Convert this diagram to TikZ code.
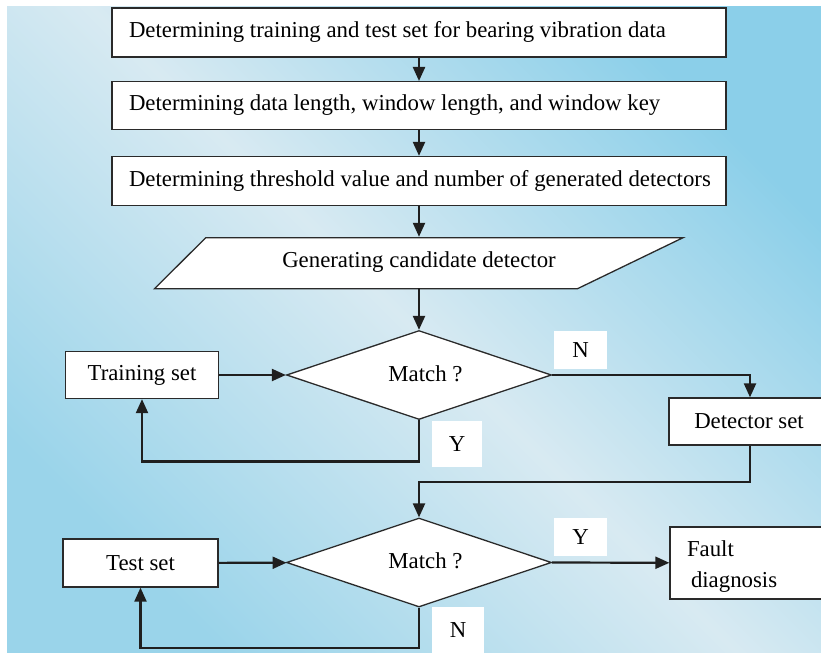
\documentclass[tikz,border=0pt]{standalone}
\usepackage{fontspec}
\setmainfont{Liberation Serif}
\usetikzlibrary{arrows.meta,shapes.geometric}
\definecolor{bgblue}{HTML}{8BCFE9}
\definecolor{bgblueb}{HTML}{9AD4EA}
\definecolor{bglight}{HTML}{D8EAF2}
\definecolor{edge}{HTML}{2A2A2A}
\tikzset{
  txt/.style={font=\fontsize{22.8}{26}\selectfont},
  box/.style={draw=edge, line width=1.3pt, fill=white, inner sep=0pt, txt},
  wide/.style={box, minimum width=614pt, minimum height=49pt},
  dia/.style={draw=edge, line width=1.3pt, fill=white, diamond, aspect=3, inner sep=0pt, minimum width=265pt, minimum height=89pt, txt},
  lab/.style={fill=white, inner sep=0pt, txt},
  arr/.style={line width=2.2pt, draw=black!88, -{Triangle[length=14pt,width=12pt]}}
}
\newcommand{\lefttext}[1]{\makebox[580pt][l]{#1}}
\newcommand{\matchtext}{\raisebox{3.5pt}{\hspace*{13pt}Match ?}}
\begin{document}
\begin{tikzpicture}[x=1pt,y=-1pt]
\useasboundingbox (0,0) rectangle (821,655);
\fill[white] (0,0) rectangle (821,655);
\begin{scope}
\clip (7,7) rectangle (821,652);
\shade[left color=bgblueb, right color=bgblue, middle color=bglight, shading angle=135] (7,7) rectangle (821,652);

\node[wide] (b1) at (419,32.4) {\lefttext{Determining training and test set for bearing vibration data}};
\node[wide, minimum height=47.7pt] (b2) at (419,105.5) {\lefttext{Determining data length, window length, and window key}};
\node[wide] (b3) at (419,181) {\lefttext{Determining threshold value and number of generated detectors}};

\draw[draw=edge, line width=1.3pt, fill=white] (205.8,237.7) -- (683,237.7) -- (577.5,288.7) -- (154.5,288.7) -- cycle;
\node[inner sep=0pt, minimum height=51pt, txt] (gen) at (419,262.5) {Generating candidate detector};

\node[dia] (d1) at (419,375) {\matchtext};
\node[box, minimum width=153pt, minimum height=47pt] (train) at (142,375) {Training set};
\node[box, minimum width=160pt, minimum height=47pt] (det) at (749,421.5) {Detector set};

\node[dia] (d2) at (419,562.5) {\matchtext};
\node[box, minimum width=170pt, minimum height=72pt, font=\fontsize{22.8}{31}\selectfont] (fault) at (755,563) {\smash{\raisebox{-8pt}{\makebox[136pt][l]{\begin{tabular}{@{}l@{}}Fault\\\hspace*{4pt}diagnosis\end{tabular}}}}};
\node[box, minimum width=155pt, minimum height=48pt] (test) at (140.5,563) {Test set};

\node[lab, minimum width=53pt, minimum height=38.5pt] (n1) at (580.5,349.8) {N};
\node[lab, minimum width=50pt, minimum height=46.5pt] (y1) at (457,443.8) {Y};
\node[lab, minimum width=53pt, minimum height=38.5pt] (y2) at (580.5,537) {Y};
\node[lab, minimum width=52pt, minimum height=46pt] (n2) at (458,629.7) {N};

\coordinate (c1) at (750,375);
\coordinate (c2) at (419,461.5);
\coordinate (c3) at (142,461.5);
\coordinate (c4) at (750,482);
\coordinate (c5) at (419,482);
\coordinate (c6) at (419,647.7);
\coordinate (c7) at (140.5,647.7);

\draw[arr] (b1) -- (b2);
\draw[arr] (b2) -- (b3);
\draw[arr] (b3) -- (gen);
\draw[arr] (gen) -- (d1);
\draw[arr] (train) -- (d1);
\draw[arr] (d1.east) -- (c1) -- (c1 |- det.north);
\draw[arr] (d1.south) -- (c2) -- (c3) -- (train);
\draw[arr] (det.south -| c4) -- (c4) -- (c5) -- (d2);
\draw[arr] (test) -- (d2);
\draw[arr] (d2.east) -- (fault);
\draw[arr] (d2.south) -- (c6) -- (c7) -- (test);
\end{scope}
\end{tikzpicture}
\end{document}
